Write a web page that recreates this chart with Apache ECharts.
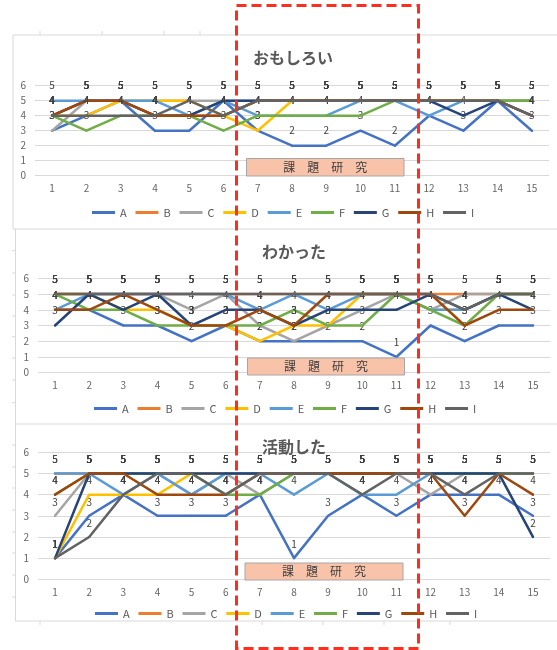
<!DOCTYPE html>
<html>
<head>
<meta charset="utf-8">
<script src="https://cdn.jsdelivr.net/npm/echarts@6/dist/echarts.min.js"></script>
<style>
  html, body { margin: 0; padding: 0; background: #ffffff; }
  #chart { width: 557px; height: 650px; }
</style>
</head>
<body>
<div id="chart"></div>
<script>
// Lesson numbers along the x axis
const categories = ['1','2','3','4','5','6','7','8','9','10','11','12','13','14','15'];
const seriesNames = ['A','B','C','D','E','F','G','H','I'];
const seriesColors = ['#4472C4','#ED7D31','#A5A5A5','#FFC000','#5B9BD5','#70AD47','#264478','#9E480E','#636363'];
const panelTitles = ['おもしろい', 'わかった', '活動した'];
const yTickValues = [0, 1, 2, 3, 4, 5, 6];

// おもしろい — one row per student A..I
const omoshiroi = [
  [3,4,5,3,3,5,3,2,2,3,2,4,3,5,3],
  [4,5,5,4,4,4,5,5,5,5,5,5,5,5,5],
  [3,5,5,5,5,5,5,5,5,5,5,5,5,5,5],
  [4,4,5,5,5,4,3,5,5,5,5,5,5,5,5],
  [5,5,5,5,4,5,4,4,4,5,5,4,5,5,5],
  [4,3,4,4,4,3,4,4,4,4,5,5,5,5,5],
  [4,5,5,4,4,5,5,5,5,5,5,5,4,5,4],
  [4,5,5,4,4,4,5,5,5,5,5,5,5,5,4],
  [4,4,4,4,5,4,5,5,5,5,5,5,5,5,4]
];

// わかった
const wakatta = [
  [4,4,3,3,2,3,2,2,2,2,1,3,2,3,3],
  [5,5,5,5,5,5,5,5,5,5,5,5,5,5,5],
  [5,5,5,5,4,5,3,2,3,4,5,4,5,5,5],
  [5,5,4,4,3,3,2,3,3,5,5,4,4,5,5],
  [4,5,5,5,5,5,4,5,4,5,5,4,4,5,5],
  [5,4,4,3,3,3,3,4,3,3,5,4,3,5,5],
  [3,5,4,5,3,4,4,3,4,4,4,5,4,5,4],
  [4,4,5,4,3,3,4,3,5,5,5,5,3,4,4],
  [5,5,5,5,5,5,5,5,5,5,5,5,4,5,5]
];

// 活動した
const katsudou = [
  [1,3,4,3,3,3,4,1,3,4,3,4,4,4,3],
  [5,5,5,5,5,5,5,5,5,5,5,5,5,5,5],
  [3,5,5,5,4,5,4,5,5,5,5,4,5,5,5],
  [1,4,4,4,5,5,5,5,5,5,5,5,5,5,5],
  [5,5,4,5,4,5,5,4,5,4,4,5,5,5,5],
  [4,5,5,5,5,4,4,5,5,5,5,5,5,5,5],
  [1,5,5,5,5,5,5,5,5,5,5,5,5,5,2],
  [4,5,5,4,4,4,5,5,5,5,5,5,3,5,4],
  [1,2,4,5,5,4,5,5,5,4,5,5,4,5,5]
];

const panelData = [omoshiroi, wakatta, katsudou];

// Placement of each small chart on the sheet
const panelLayout = [
  { left: 35, right: 8, top: 85.7, height: 90,  titleX: 288, titleY: 45,  legendLeft: 87, legendTop: 202, labelDist: 9, box: [246.5, 158.5, 157.5, 17.5] },
  { left: 38, right: 7, top: 278.3, height: 94.4, titleX: 289, titleY: 239, legendLeft: 89, legendTop: 398, labelDist: 9, box: [247.5, 358, 157, 17] },
  { left: 38, right: 7, top: 452.3, height: 127, titleX: 289, titleY: 434, legendLeft: 90, legendTop: 603, labelDist: 8, box: [245, 563, 158, 17] }
];

const FONT = '"Noto Sans CJK JP", "Noto Sans", sans-serif';
const AXIS_GREY = '#666666';
const GRID_GREY = '#d9d9d9';

const grids = [], xAxes = [], yAxes = [], titles = [], legends = [], series = [];

panelLayout.forEach(function (L, p) {
  grids.push({ left: L.left, right: L.right, top: L.top, height: L.height, containLabel: false });
  xAxes.push({
    type: 'category', gridIndex: p, data: categories, boundaryGap: true,
    axisLine: { show: false }, axisTick: { show: false }, splitLine: { show: false },
    axisLabel: { color: AXIS_GREY, fontSize: 10, fontFamily: FONT, margin: 8, interval: 0 }
  });
  yAxes.push({
    type: 'value', gridIndex: p, min: yTickValues[0], max: yTickValues[yTickValues.length - 1], interval: 1,
    axisLine: { show: false }, axisTick: { show: false },
    splitLine: { show: true, lineStyle: { color: GRID_GREY, width: 1 } },
    axisLabel: { color: AXIS_GREY, fontSize: 10, fontFamily: FONT, margin: 9, showMaxLabel: true, showMinLabel: true }
  });
  titles.push({
    text: panelTitles[p], left: L.titleX, top: L.titleY, textAlign: 'center',
    textStyle: { color: '#595959', fontSize: 16, fontWeight: 'bold', fontFamily: FONT }
  });
  legends.push({
    data: seriesNames, left: L.legendLeft, top: L.legendTop, orient: 'horizontal',
    icon: 'rect', itemWidth: 23, itemHeight: 3, itemGap: 8.8,
    textStyle: { color: '#595959', fontSize: 11, fontFamily: FONT },
    selectedMode: false
  });
  panelData[p].forEach(function (row, s) {
    series.push({
      type: 'line', name: seriesNames[s], xAxisIndex: p, yAxisIndex: p,
      data: row,
      symbol: 'circle', symbolSize: 2, showSymbol: true,
      itemStyle: { color: seriesColors[s] },
      lineStyle: { color: seriesColors[s], width: 2.5, cap: 'round', join: 'round' },
      label: {
        show: true, position: 'top', distance: L.labelDist,
        fontSize: 10, color: '#404040', fontFamily: FONT
      },
      emphasis: { disabled: true },
      silent: true,
      z: 2 + s
    });
  });
});

// Sheet cell borders around the three charts
const sheetLines = [
  [13, 35, 557, 35], [13, 35, 13, 229], [13, 229, 557, 229],
  [15.5, 229, 15.5, 424], [15.5, 424, 557, 424],
  [15.5, 424, 15.5, 621], [15.5, 621, 557, 621],
  [40, 31, 40, 35], [102, 31, 102, 35], [164, 31, 164, 35], [200, 31, 200, 35],
  [40, 621, 40, 625], [262, 621, 262, 625], [323, 621, 323, 625], [384, 621, 384, 625], [450, 621, 450, 625]
];
[250.7, 273, 295, 316, 336.7, 358, 380, 402.7, 445, 467, 488, 510, 532, 553, 575, 597].forEach(function (y) {
  sheetLines.push([12, y, 15.5, y]);
});

const graphics = sheetLines.map(function (l) {
  return {
    type: 'line', silent: true, z: 1,
    shape: { x1: l[0], y1: l[1], x2: l[2], y2: l[3] },
    style: { stroke: GRID_GREY, lineWidth: 1 }
  };
});

// 課題研究 period marker inside each chart
panelLayout.forEach(function (L) {
  const b = L.box;
  graphics.push({
    type: 'rect', silent: true, z: 20,
    shape: { x: b[0], y: b[1], width: b[2], height: b[3] },
    style: { fill: '#f9c3aa', stroke: '#a6a6a6', lineWidth: 1 }
  });
  graphics.push({
    type: 'text', silent: true, z: 21,
    x: b[0] + b[2] / 2, y: b[1] + b[3] / 2,
    style: {
      text: '課　題　研　究', fill: '#404040', font: '12px ' + FONT,
      align: 'center', verticalAlign: 'middle'
    }
  });
});

// Red dashed frame around the research period across all three charts
graphics.push({
  type: 'rect', silent: true, z: 100,
  shape: { x: 236.5, y: 5.5, width: 182, height: 643 },
  style: { fill: 'none', stroke: '#fb2f1f', lineWidth: 3, lineDash: [10, 5] }
});

const chart = echarts.init(document.getElementById('chart'), null, { renderer: 'canvas' });
chart.setOption({
  backgroundColor: '#ffffff',
  animation: false,
  title: titles,
  legend: legends,
  grid: grids,
  xAxis: xAxes,
  yAxis: yAxes,
  series: series,
  graphic: graphics
});
</script>
</body>
</html>
